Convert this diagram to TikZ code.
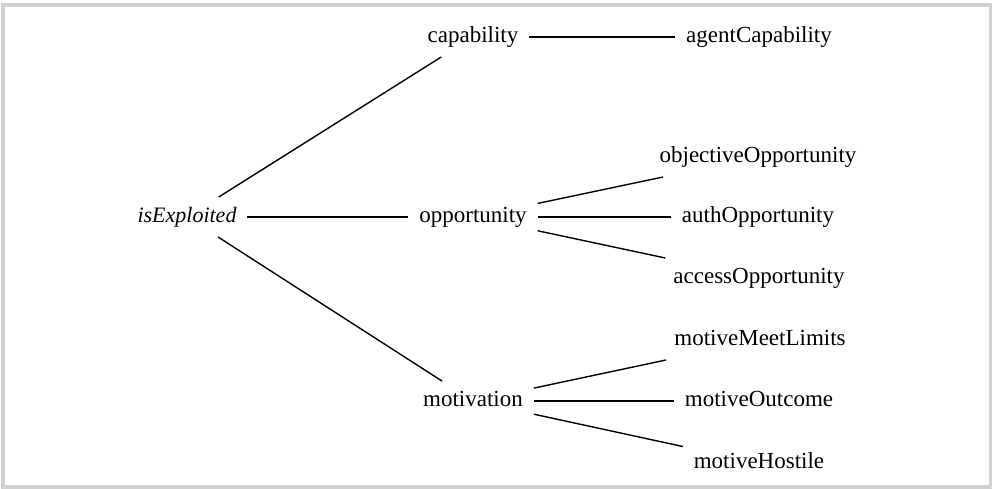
\documentclass[tikz,border=0pt]{standalone}
\usepackage{fontspec}
\setmainfont{Liberation Serif}
\begin{document}
\begin{tikzpicture}[x=1pt,y=-1pt,
  lbl/.style={font=\fontsize{23}{27}\selectfont, inner xsep=0pt, inner ysep=0pt,
    outer xsep=11pt, outer ysep=0pt, text height=10.5pt, text depth=0pt, minimum height=40pt},
  conn/.style={line width=1.4pt}]
\useasboundingbox (0,0) rectangle (992,488);
\draw[black!18, line width=4pt] (3,5) rectangle (991,486.5);
\node[lbl, font=\fontsize{22}{26}\selectfont\itshape] (ie) at (187,217) {isExploited};
\node[lbl] (cap) at (473,37) {capability};
\node[lbl] (opp) at (473,217) {opportunity};
\node[lbl] (mot) at (473,401) {motivation};
\node[lbl] (agc) at (759,37) {agentCapability};
\node[lbl] (obj) at (758,157) {objectiveOpportunity};
\node[lbl] (aut) at (758,217) {authOpportunity};
\node[lbl] (acc) at (759,278) {accessOpportunity};
\node[lbl] (mml) at (760,340) {motiveMeetLimits};
\node[lbl] (mou) at (759,401) {motiveOutcome};
\node[lbl] (mho) at (759,463) {motiveHostile};
\draw[conn] (ie) -- (cap);
\draw[conn] (ie) -- (opp);
\draw[conn] (ie) -- (mot);
\draw[conn] (cap) -- (agc);
\draw[conn] (opp) -- (obj);
\draw[conn] (opp) -- (aut);
\draw[conn] (opp) -- (acc);
\draw[conn] (mot) -- (mml);
\draw[conn] (mot) -- (mou);
\draw[conn] (mot) -- (mho);
\end{tikzpicture}
\end{document}
